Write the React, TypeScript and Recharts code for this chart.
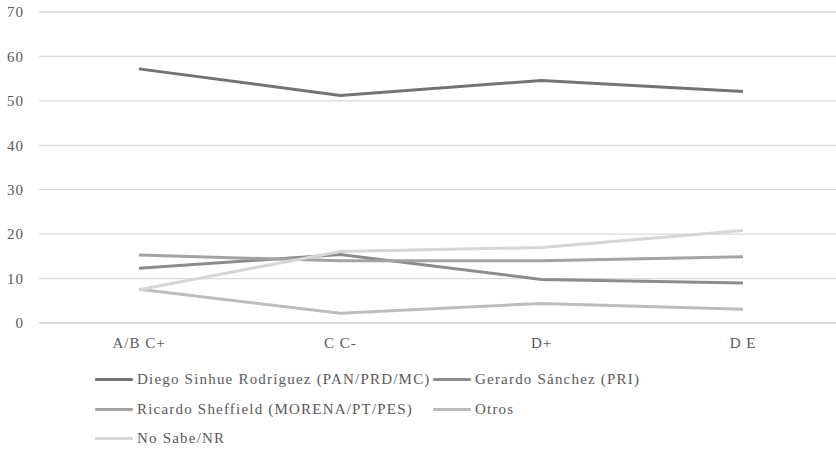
import React from "react";
import {
  LineChart,
  Line,
  XAxis,
  YAxis,
  CartesianGrid,
  Legend,
} from "recharts";

const categories = ["A/B C+", "C C-", "D+", "D E"];

const diego = [57.2, 51.2, 54.6, 52.1];
const gerardo = [12.3, 15.4, 9.8, 9.0];
const ricardo = [15.3, 14.0, 14.0, 14.9];
const otros = [7.6, 2.2, 4.4, 3.1];
const noSabe = [7.5, 16.1, 17.0, 20.8];

const yTicks = [0, 10, 20, 30, 40, 50, 60, 70];

const series = [
  { key: "diego", name: "Diego Sinhue Rodríguez (PAN/PRD/MC)", values: diego, color: "#737373" },
  { key: "gerardo", name: "Gerardo Sánchez (PRI)", values: gerardo, color: "#8c8c8c" },
  { key: "ricardo", name: "Ricardo Sheffield (MORENA/PT/PES)", values: ricardo, color: "#a3a3a3" },
  { key: "otros", name: "Otros", values: otros, color: "#bdbdbd" },
  { key: "noSabe", name: "No Sabe/NR", values: noSabe, color: "#d6d6d6" },
];

const data = categories.map((name, i) => {
  const row: Record<string, string | number> = { name };
  series.forEach((s) => {
    row[s.key] = s.values[i];
  });
  return row;
});

const FONT = "Liberation Serif, DejaVu Serif, serif";
const TEXT = "#595959";

const tickStyle = {
  fontFamily: FONT,
  fontSize: 15,
  fill: TEXT,
  letterSpacing: 1,
};

// two columns, rows wrap like the spreadsheet legend
function LegendBox() {
  const rows = [series.slice(0, 2), series.slice(2, 4), series.slice(4)];
  return (
    <div style={{ fontFamily: FONT, fontSize: 15, color: TEXT, letterSpacing: 1.2 }}>
      {rows.map((row, r) => (
        <div key={r} style={{ display: "flex", height: 29.5, alignItems: "center" }}>
          {row.map((s, c) => (
            <div
              key={s.key}
              style={{
                display: "flex",
                alignItems: "center",
                width: c === 0 ? 338 : undefined,
              }}
            >
              <span
                style={{
                  display: "inline-block",
                  width: 38,
                  height: 3,
                  background: s.color,
                  marginRight: 4,
                  borderRadius: 1,
                }}
              />
              <span>{s.name}</span>
            </div>
          ))}
        </div>
      ))}
    </div>
  );
}

export default function App() {
  return (
    <div
      style={{
        position: "fixed",
        left: 0,
        top: 0,
        width: 836,
        height: 449,
        overflow: "hidden",
        background: "#fff",
      }}
    >
      <LineChart
        width={860}
        height={449}
        data={data}
        margin={{ top: 12, right: 17, left: 0, bottom: 96 }}
      >
        <CartesianGrid vertical={false} stroke="#d9d9d9" strokeWidth={1.3} />
        <XAxis
          dataKey="name"
          axisLine={{ stroke: "#d9d9d9", strokeWidth: 1.3 }}
          tickLine={false}
          tick={tickStyle}
          tickMargin={8}
          padding={{ left: 100, right: 100 }}
        />
        <YAxis
          width={39}
          domain={[0, 70]}
          ticks={yTicks}
          axisLine={false}
          tickLine={false}
          tick={tickStyle}
          tickMargin={9}
        />
        <Legend
          layout="horizontal"
          verticalAlign="middle"
          content={<LegendBox />}
          wrapperStyle={{ top: 365, left: 95, width: 740 }}
        />
        {series.map((s) => (
          <Line
            key={s.key}
            dataKey={s.key}
            name={s.name}
            stroke={s.color}
            strokeWidth={3}
            dot={false}
            activeDot={false}
            isAnimationActive={false}
          />
        ))}
      </LineChart>
    </div>
  );
}
